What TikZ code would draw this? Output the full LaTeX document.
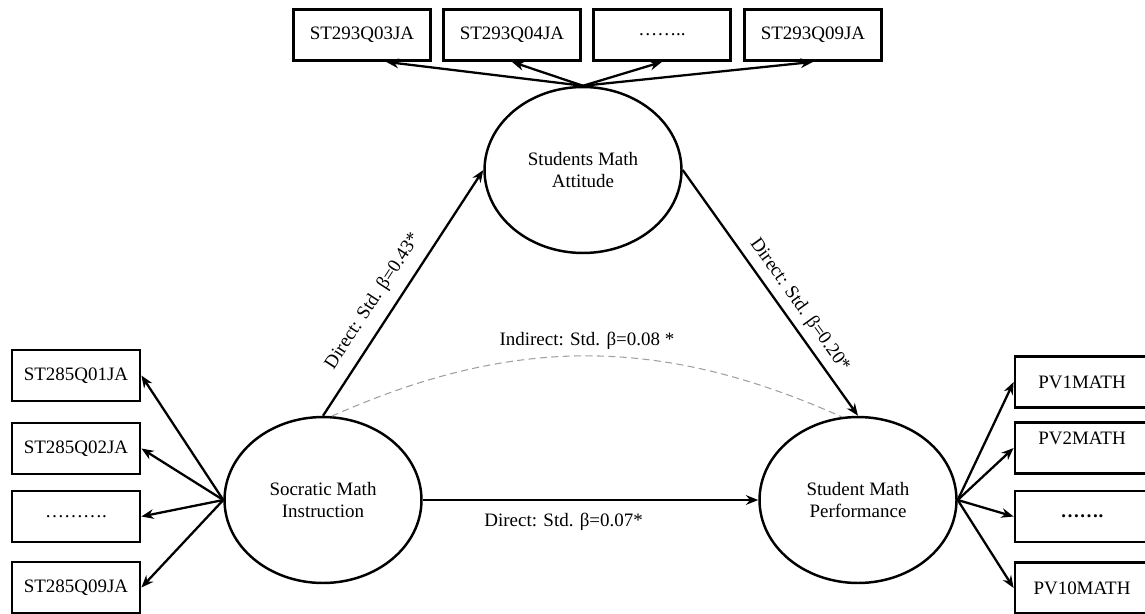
\documentclass[tikz,border=0pt]{standalone}
\usepackage{fontspec}
\setmainfont{Liberation Serif}
\usepackage{tikz}
\usetikzlibrary{shapes, arrows.meta}

\begin{document}
\begin{tikzpicture}[
    x=0.02cm, y=0.02cm,
    font=\fontsize{10.8pt}{13pt}\selectfont,
    latent/.style={ellipse, draw, line width=1.4pt, minimum width=3.94cm, minimum height=3.32cm, inner sep=0pt, align=center},
    item/.style={rectangle, draw, line width=1.6pt, minimum width=2.74cm, minimum height=1.02cm, inner sep=2pt},
    % --- connectors ---
    lnk/.style={line width=1.3pt, -{Stealth[length=7pt, width=5.5pt]}},
    ind/.style={draw=gray!75, line width=0.6pt, dash pattern=on 4pt off 2.5pt},
    lb/.style={sloped}          % label written along the line
]
\useasboundingbox (0,0) rectangle (1145,613);

% Latent variables
\node[latent] (SMI) at (323,113) {Socratic Math\\Instruction};
\node[latent] (SMA) at (583,443) {Students Math\\Attitude};
\node[latent] (SMP) at (858,113) {Student Math\\Performance};

% Indicators of attitude
\node[item] (T1) at (362,578) {ST293Q03JA};
\node[item] (T2) at (512,578) {ST293Q04JA};
\node[item] (T3) at (662,578) {……..};
\node[item] (T4) at (813,578) {ST293Q09JA};

% Indicators of instruction
\node[item, minimum width=2.56cm] (L1) at (76,237.5) {ST285Q01JA};
\node[item, minimum width=2.56cm] (L2) at (76,164.5) {ST285Q02JA};
\node[item, minimum width=2.56cm] (L3) at (76,96.5) {……….};
\node[item, minimum width=2.56cm] (L4) at (76,25.5) {ST285Q09JA};

% Indicators of performance
\node[item, minimum width=2.68cm] (R1) at (1082,231) {PV1MATH};
\node[item, minimum width=2.68cm, text depth=0.4cm] (R2) at (1082,165) {PV2MATH};
\node[item, minimum width=2.68cm] (R3) at (1082,96.5) {\textbf{…….}};
\node[item, minimum width=2.68cm] (R4) at (1082,25) {PV10MATH};

% Measurement arrows
\draw[lnk] (SMA.north) -- (T1.-48);
\draw[lnk] (SMA.north) -- (T2.south);
\draw[lnk] (SMA.north) -- (T3.south);
\draw[lnk] (SMA.north) -- (T4.south);

\draw[lnk] (SMI.west) -- (L1.east);
\draw[lnk] (SMI.west) -- (L2.east);
\draw[lnk] (SMI.west) -- (L3.east);
\draw[lnk] (SMI.west) -- (L4.east);

\draw[lnk] (SMP.east) -- (R1.west);
\draw[lnk] (SMP.east) -- (R2.west);
\draw[lnk] (SMP.east) -- (R3.west);
\draw[lnk] (SMP.east) -- (R4.west);

% Structural paths
\draw[lnk] (SMI.north) -- node[lb, above=0.1cm, pos=0.42] {Direct: Std. β=0.43*} (SMA.west);
\draw[lnk] (SMA.east) -- node[lb, above=0.02cm, pos=0.59] {Direct: Std. β=0.20*} (SMP.north);
\draw[lnk] (SMI.east) -- node[below=0.12cm, pos=0.42] {Direct: Std. β=0.07*} (SMP.west);
\draw[ind] (SMI.84) to[bend left=24] node[above, text=black] {Indirect: Std. β=0.08 *} (SMP.101);

\end{tikzpicture}
\end{document}
